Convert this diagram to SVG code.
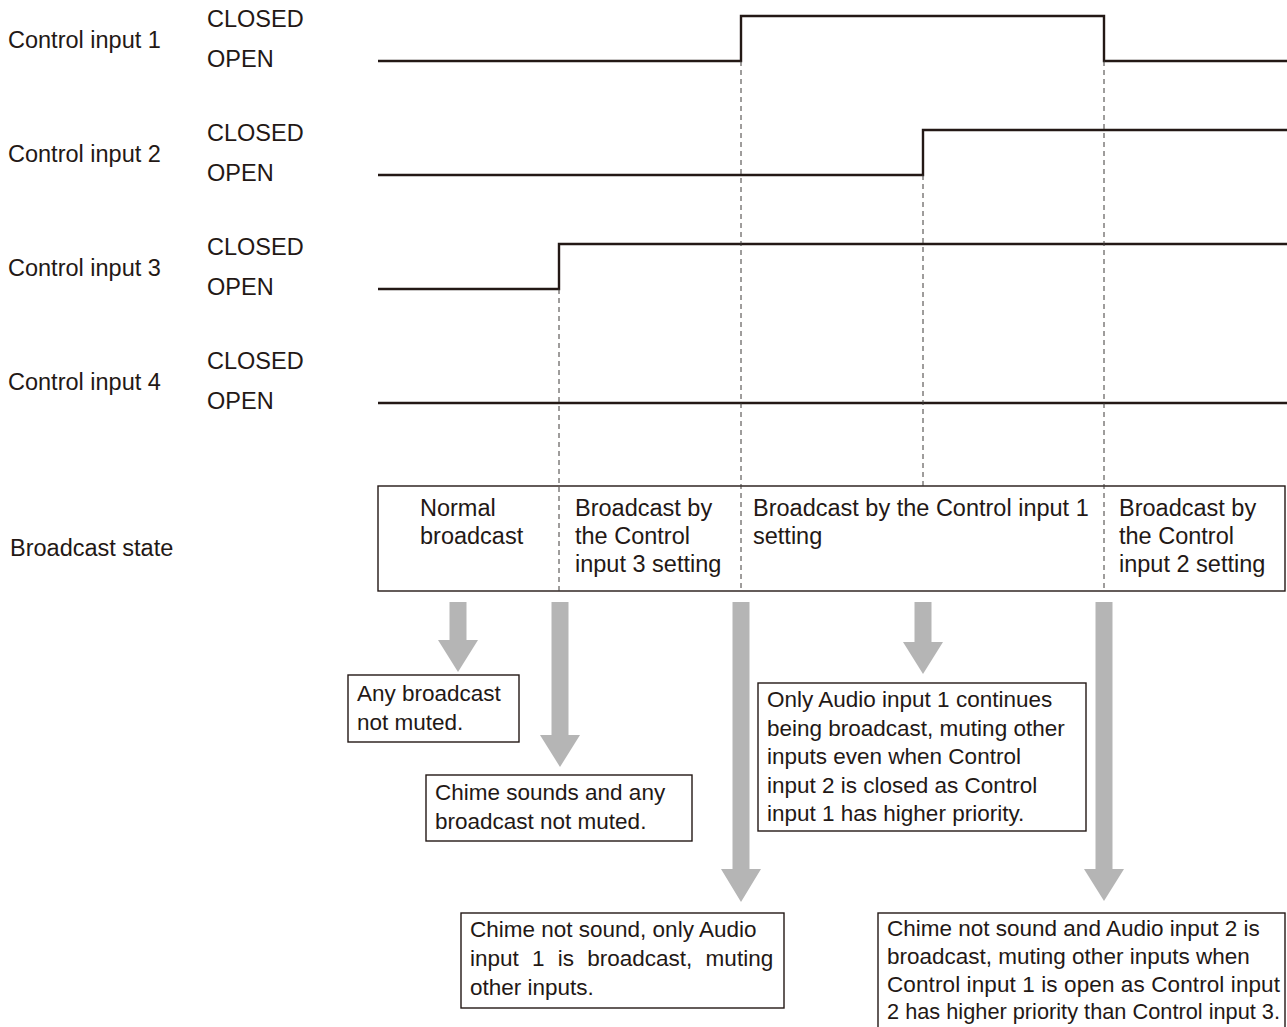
<svg xmlns="http://www.w3.org/2000/svg" width="1287" height="1027" viewBox="0 0 1287 1027">
<style>
text{font-family:"Liberation Sans",Arial,Helvetica,sans-serif;font-size:22.5px;fill:#231815}
.lbl{font-size:23.5px}
.wave{fill:none;stroke:#231815;stroke-width:2.4}
.dash{fill:none;stroke:#3e3a39;stroke-width:1;stroke-dasharray:5 4}
.box{fill:#fff;stroke:#231815;stroke-width:1.4}
.arrow{fill:#b5b5b5}
</style>
<rect width="1287" height="1027" fill="#fff"/>
<g id="labels">
<text class="lbl" x="8" y="48">Control input 1</text>
<text class="lbl" x="207" y="27">CLOSED</text>
<text class="lbl" x="207" y="67">OPEN</text>
<text class="lbl" x="8" y="162">Control input 2</text>
<text class="lbl" x="207" y="141">CLOSED</text>
<text class="lbl" x="207" y="181">OPEN</text>
<text class="lbl" x="8" y="276">Control input 3</text>
<text class="lbl" x="207" y="255">CLOSED</text>
<text class="lbl" x="207" y="295">OPEN</text>
<text class="lbl" x="8" y="390">Control input 4</text>
<text class="lbl" x="207" y="369">CLOSED</text>
<text class="lbl" x="207" y="409">OPEN</text>
<text class="lbl" x="10" y="556">Broadcast state</text>
</g>
<g id="waveforms">
<path class="wave" d="M378,61 H741 V16 H1104 V61 H1287"/>
<path class="wave" d="M378,175 H923 V130 H1287"/>
<path class="wave" d="M378,289 H559 V244 H1287"/>
<path class="wave" d="M378,403 H1287"/>
</g>
<g id="state-box">
<rect class="box" x="378" y="486" width="907" height="105"/>
<text class="lbl" x="420" y="516">Normal</text>
<text class="lbl" x="420" y="544">broadcast</text>
<text class="lbl" x="575" y="516">Broadcast by</text>
<text class="lbl" x="575" y="544">the Control</text>
<text class="lbl" x="575" y="572">input 3 setting</text>
<text class="lbl" x="753" y="516">Broadcast by the Control input 1</text>
<text class="lbl" x="753" y="544">setting</text>
<text class="lbl" x="1119" y="516">Broadcast by</text>
<text class="lbl" x="1119" y="544">the Control</text>
<text class="lbl" x="1119" y="572">input 2 setting</text>
</g>
<g id="connectors">
<path class="dash" d="M559,289 V591"/>
<path class="dash" d="M741,61 V591"/>
<path class="dash" d="M923,175 V486"/>
<path class="dash" d="M1104,61 V591"/>
<path class="arrow" d="M449.5,602 H466.5 V640 H478 L458,672 L438,640 H449.5 Z"/>
<path class="arrow" d="M551.5,602 H568.5 V735 H580 L560,767 L540,735 H551.5 Z"/>
<path class="arrow" d="M732.5,602 H749.5 V869 H761 L741,902 L721,869 H732.5 Z"/>
<path class="arrow" d="M914.5,602 H931.5 V642 H943 L923,674 L903,642 H914.5 Z"/>
<path class="arrow" d="M1095.5,602 H1112.5 V869 H1124 L1104,901 L1084,869 H1095.5 Z"/>
</g>
<g id="note-normal">
<rect class="box" x="348" y="675" width="171" height="67"/>
<text x="357" y="701">Any broadcast</text>
<text x="357" y="730">not muted.</text>
</g>
<g id="note-ci3">
<rect class="box" x="426" y="775" width="266" height="66"/>
<text x="435" y="800">Chime sounds and any</text>
<text x="435" y="829">broadcast not muted.</text>
</g>
<g id="note-ci1">
<rect class="box" x="461" y="913" width="323" height="95"/>
<text x="470" y="937">Chime not sound, only Audio</text>
<text x="470" y="966" word-spacing="7">input 1 is broadcast, muting</text>
<text x="470" y="995">other inputs.</text>
</g>
<g id="note-ci1-cont">
<rect class="box" x="758" y="683" width="328" height="148"/>
<text x="767" y="707">Only Audio input 1 continues</text>
<text x="767" y="736">being broadcast, muting other</text>
<text x="767" y="764">inputs even when Control</text>
<text x="767" y="793">input 2 is closed as Control</text>
<text x="767" y="821">input 1 has higher priority.</text>
</g>
<g id="note-ci2">
<rect class="box" x="878" y="913" width="407" height="125"/>
<text x="887" y="936">Chime not sound and Audio input 2 is</text>
<text x="887" y="964">broadcast, muting other inputs when</text>
<text x="887" y="992" textLength="393" lengthAdjust="spacing">Control input 1 is open as Control input</text>
<text x="887" y="1019" textLength="393" lengthAdjust="spacingAndGlyphs">2 has higher priority than Control input 3.</text>
</g>
</svg>
